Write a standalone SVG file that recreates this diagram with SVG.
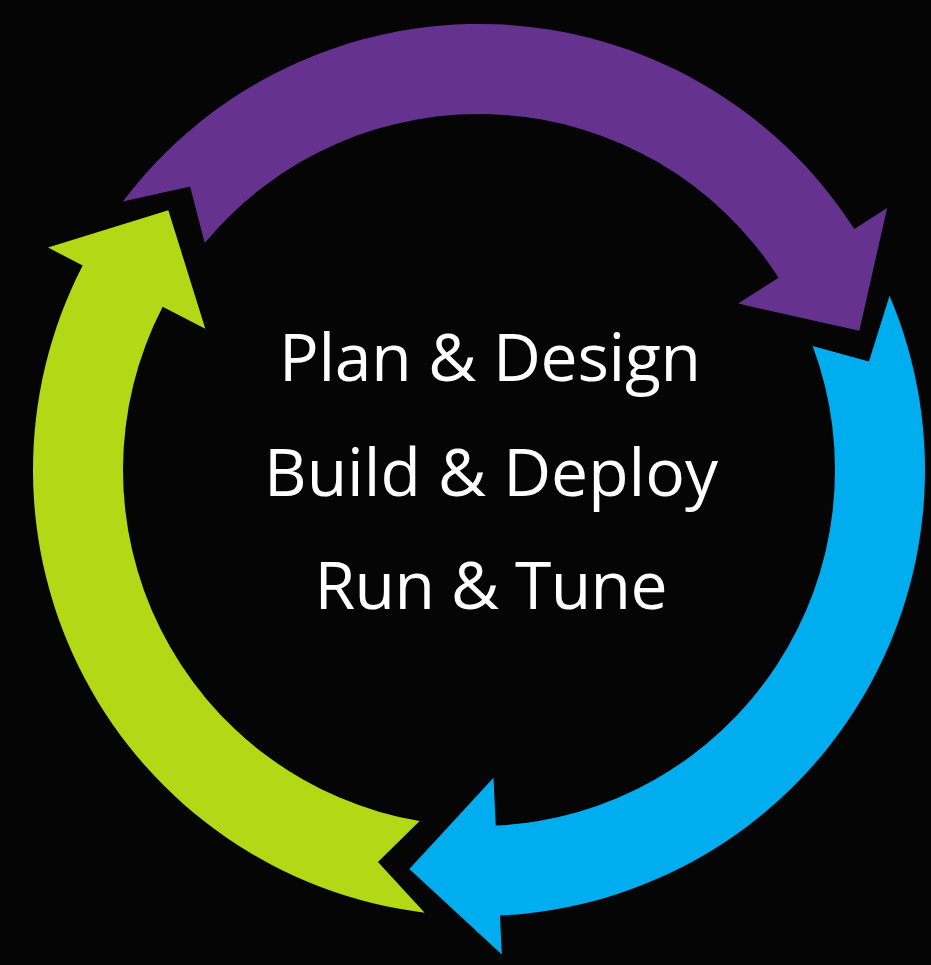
<svg xmlns="http://www.w3.org/2000/svg" width="931" height="965" viewBox="0 0 931 965">
<style>
.bg{fill:#050505}
.lbl{font-family:"Open Sans","Liberation Sans",sans-serif;font-size:66px;fill:#ffffff;text-anchor:middle}
</style>
<defs>
<path id="arrow" d="M122.81,201.59 A446,446 0 0 1 854.31,229.05 L887.13,207.98 L859.33,330.82 L738.19,303.61 L778.58,277.67 A356,356 0 0 0 204.70,243.08 L190.09,186.53 Z"/>
</defs>
<rect class="bg" x="0" y="0" width="931" height="965"/>
<g id="connectors">
<g id="arrow-plan"><use href="#arrow" fill="#663290"/></g>
<g id="arrow-build"><use href="#arrow" fill="#00adee" transform="rotate(120 479 470)"/></g>
<g id="arrow-run"><use href="#arrow" fill="#b3d916" transform="rotate(240 479 470)"/></g>
</g>
<g id="labels">
<text class="lbl" x="490" y="381" textLength="422" lengthAdjust="spacing">Plan &amp; Design</text>
<text class="lbl" x="491" y="496" textLength="454" lengthAdjust="spacing">Build &amp; Deploy</text>
<text class="lbl" x="491" y="609" textLength="353" lengthAdjust="spacing">Run &amp; Tune</text>
</g>
</svg>
